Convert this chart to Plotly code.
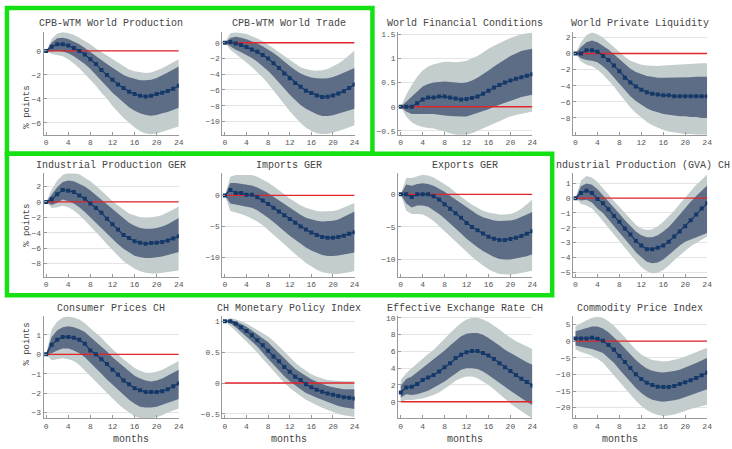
import plotly.graph_objects as go

W, H = 732, 449
MONTHS = list(range(25))

TITLES = ["CPB-WTM World Production", "CPB-WTM World Trade", "World Financial Conditions",
          "World Private Liquidity", "Industrial Production GER", "Imports GER", "Exports GER",
          "ndustrial Production (GVA) CH", "Consumer Prices CH", "CH Monetary Policy Index",
          "Effective Exchange Rate CH", "Commodity Price Index"]

# ---- 1 CPB-WTM World Production
P1_MED = [0, 0.35, 0.55, 0.55, 0.45, 0.25, 0.0, -0.3, -0.7, -1.1, -1.6, -2.0, -2.4, -2.8, -3.1, -3.4, -3.6, -3.75, -3.8, -3.75, -3.6, -3.5, -3.35, -3.15, -2.9]
P1_IN_HI = [0, 0.7, 1.05, 1.1, 1.0, 0.8, 0.55, 0.25, -0.1, -0.45, -0.8, -1.1, -1.4, -1.7, -2.0, -2.2, -2.35, -2.45, -2.45, -2.4, -2.25, -2.05, -1.8, -1.55, -1.3]
P1_IN_LO = [0, -0.05, 0.0, -0.05, -0.2, -0.45, -0.75, -1.1, -1.5, -2.0, -2.5, -3.0, -3.5, -3.9, -4.3, -4.7, -5.0, -5.2, -5.35, -5.4, -5.35, -5.2, -5.1, -4.95, -4.75]
P1_OUT_HI = [0, 1.0, 1.45, 1.55, 1.5, 1.35, 1.1, 0.85, 0.55, 0.2, -0.1, -0.4, -0.7, -1.0, -1.3, -1.55, -1.7, -1.8, -1.85, -1.8, -1.65, -1.45, -1.2, -0.95, -0.7]
P1_OUT_LO = [0, -0.25, -0.35, -0.45, -0.7, -1.05, -1.45, -1.9, -2.4, -2.9, -3.5, -4.0, -4.6, -5.1, -5.6, -6.0, -6.4, -6.7, -6.9, -6.95, -6.9, -6.8, -6.6, -6.45, -6.3]

# ---- 2 CPB-WTM World Trade
P2_MED = [0, 0.1, -0.1, -0.3, -0.55, -0.85, -1.15, -1.55, -2.0, -2.6, -3.2, -3.9, -4.5, -5.1, -5.6, -6.1, -6.4, -6.7, -6.9, -6.85, -6.7, -6.45, -6.15, -5.75, -5.3]
P2_IN_HI = [0, 0.6, 0.75, 0.65, 0.45, 0.2, -0.1, -0.45, -0.85, -1.3, -1.8, -2.4, -2.95, -3.45, -3.9, -4.2, -4.4, -4.5, -4.55, -4.5, -4.35, -4.1, -3.8, -3.5, -3.2]
P2_IN_LO = [0, -0.5, -0.9, -1.2, -1.55, -1.95, -2.4, -3.0, -3.6, -4.3, -5.0, -5.8, -6.6, -7.3, -7.9, -8.4, -8.8, -9.1, -9.3, -9.3, -9.2, -9.0, -8.8, -8.6, -8.4]
P2_OUT_HI = [0, 1.2, 1.3, 1.25, 1.1, 0.85, 0.55, 0.2, -0.2, -0.7, -1.2, -1.7, -2.2, -2.7, -3.1, -3.35, -3.5, -3.55, -3.5, -3.35, -3.05, -2.65, -2.15, -1.6, -1.0]
P2_OUT_LO = [0, -0.9, -1.5, -2.0, -2.5, -3.1, -3.7, -4.4, -5.2, -6.0, -6.9, -7.8, -8.7, -9.5, -10.2, -10.8, -11.2, -11.5, -11.6, -11.6, -11.4, -11.2, -11.0, -10.8, -10.5]

# ---- 3 World Financial Conditions
P3_MED = [0, 0, 0, 0.07, 0.15, 0.19, 0.19, 0.21, 0.21, 0.19, 0.17, 0.15, 0.16, 0.18, 0.21, 0.27, 0.33, 0.4, 0.45, 0.5, 0.54, 0.58, 0.61, 0.64, 0.67]
P3_IN_HI = [0, 0.1, 0.2, 0.32, 0.42, 0.47, 0.5, 0.51, 0.52, 0.51, 0.5, 0.49, 0.5, 0.54, 0.6, 0.67, 0.75, 0.83, 0.9, 0.98, 1.05, 1.1, 1.15, 1.18, 1.2]
P3_IN_LO = [0, -0.1, -0.15, -0.15, -0.15, -0.15, -0.15, -0.16, -0.18, -0.19, -0.2, -0.2, -0.2, -0.17, -0.13, -0.09, -0.05, 0.0, 0.05, 0.09, 0.12, 0.16, 0.2, 0.23, 0.25]
P3_OUT_HI = [0, 0.25, 0.45, 0.62, 0.75, 0.83, 0.88, 0.91, 0.93, 0.93, 0.92, 0.93, 0.95, 1.0, 1.05, 1.12, 1.2, 1.26, 1.32, 1.37, 1.42, 1.46, 1.5, 1.52, 1.53]
P3_OUT_LO = [0, -0.2, -0.32, -0.38, -0.42, -0.44, -0.45, -0.48, -0.52, -0.55, -0.58, -0.59, -0.58, -0.55, -0.5, -0.45, -0.4, -0.35, -0.3, -0.25, -0.2, -0.17, -0.15, -0.12, -0.1]

# ---- 4 World Private Liquidity
P4_MED = [0, 0, 0.4, 0.4, 0.2, -0.3, -0.8, -1.5, -2.2, -3.0, -3.6, -4.1, -4.5, -4.8, -5.0, -5.1, -5.2, -5.2, -5.3, -5.3, -5.3, -5.3, -5.3, -5.3, -5.3]
P4_IN_HI = [0, 0.8, 1.4, 1.6, 1.4, 1.0, 0.5, -0.1, -0.7, -1.3, -1.9, -2.3, -2.6, -2.8, -2.9, -3.0, -3.0, -3.0, -3.0, -3.0, -3.0, -2.95, -2.9, -2.9, -2.9]
P4_IN_LO = [0, -0.6, -0.8, -0.9, -1.1, -1.6, -2.2, -2.9, -3.7, -4.5, -5.3, -5.9, -6.4, -6.8, -7.1, -7.3, -7.5, -7.6, -7.7, -7.8, -7.8, -7.9, -7.9, -8.0, -8.0]
P4_OUT_HI = [0, 1.4, 2.3, 2.6, 2.4, 2.0, 1.4, 0.8, 0.1, -0.4, -0.9, -1.2, -1.4, -1.5, -1.55, -1.55, -1.5, -1.45, -1.4, -1.35, -1.3, -1.25, -1.2, -1.2, -1.2]
P4_OUT_LO = [0, -1.0, -1.4, -1.6, -2.0, -2.6, -3.3, -4.1, -5.0, -5.9, -6.7, -7.4, -8.0, -8.5, -8.9, -9.2, -9.5, -9.7, -9.8, -9.9, -10.0, -10.0, -10.1, -10.1, -10.1]

# ---- 5 Industrial Production GER
P5_MED = [0, 0.35, 1.0, 1.55, 1.45, 1.3, 0.85, 0.4, -0.2, -0.8, -1.4, -2.2, -2.9, -3.6, -4.3, -4.7, -5.1, -5.3, -5.45, -5.35, -5.3, -5.2, -5.0, -4.75, -4.45]
P5_IN_HI = [0, 1.0, 1.9, 2.6, 2.8, 2.7, 2.4, 2.0, 1.5, 0.9, 0.3, -0.3, -1.0, -1.6, -2.2, -2.7, -3.1, -3.4, -3.5, -3.5, -3.4, -3.2, -2.9, -2.5, -2.1]
P5_IN_LO = [0, -0.4, -0.1, 0.3, 0.1, -0.2, -0.7, -1.3, -1.9, -2.6, -3.3, -4.1, -4.8, -5.5, -6.1, -6.6, -7.0, -7.2, -7.3, -7.3, -7.2, -7.1, -6.9, -6.7, -6.5]
P5_OUT_HI = [0, 1.6, 2.8, 3.5, 3.8, 3.8, 3.6, 3.2, 2.7, 2.1, 1.5, 0.8, 0.1, -0.5, -1.0, -1.5, -1.8, -2.0, -2.1, -2.0, -1.9, -1.7, -1.4, -1.0, -0.6]
P5_OUT_LO = [0, -0.8, -0.7, -0.5, -0.7, -1.1, -1.7, -2.4, -3.1, -3.9, -4.7, -5.5, -6.3, -7.0, -7.7, -8.2, -8.7, -9.0, -9.2, -9.3, -9.3, -9.2, -9.1, -9.0, -8.9]

# ---- 6 Imports GER
P6_MED = [0, 0.9, 0.4, 0.4, 0.1, 0.1, -0.3, -0.8, -1.4, -2.0, -2.6, -3.2, -3.8, -4.4, -5.0, -5.5, -6.0, -6.4, -6.7, -6.85, -6.85, -6.7, -6.5, -6.2, -5.95]
P6_IN_HI = [0, 2.0, 2.0, 1.9, 1.8, 1.6, 1.3, 0.9, 0.4, -0.2, -0.8, -1.4, -2.0, -2.6, -3.1, -3.6, -3.9, -4.1, -4.2, -4.2, -4.1, -3.9, -3.5, -3.1, -2.6]
P6_IN_LO = [0, -1.3, -1.5, -1.6, -1.8, -2.0, -2.4, -3.0, -3.6, -4.3, -5.0, -5.8, -6.5, -7.2, -7.8, -8.4, -8.9, -9.3, -9.6, -9.8, -9.8, -9.7, -9.6, -9.4, -9.2]
P6_OUT_HI = [0, 3.0, 3.3, 3.3, 3.4, 3.3, 3.0, 2.6, 2.1, 1.5, 0.9, 0.2, -0.5, -1.1, -1.6, -2.0, -2.3, -2.5, -2.6, -2.6, -2.5, -2.3, -2.0, -1.6, -1.2]
P6_OUT_LO = [0, -2.5, -2.8, -3.0, -3.3, -3.7, -4.2, -4.8, -5.5, -6.3, -7.1, -7.9, -8.7, -9.5, -10.2, -10.9, -11.5, -12.0, -12.4, -12.6, -12.7, -12.7, -12.6, -12.4, -12.2]

# ---- 7 Exports GER
P7_MED = [0, 0, -0.4, 0, 0, 0, -0.3, -0.8, -1.5, -2.2, -2.9, -3.6, -4.4, -5.0, -5.5, -6.0, -6.5, -6.8, -7.0, -7.0, -6.85, -6.65, -6.4, -6.05, -5.65]
P7_IN_HI = [0, 1.5, 1.3, 1.6, 1.7, 1.6, 1.3, 0.9, 0.4, -0.2, -0.8, -1.4, -2.0, -2.6, -3.1, -3.5, -3.8, -4.0, -4.1, -4.1, -4.0, -3.8, -3.5, -3.1, -2.7]
P7_IN_LO = [0, -1.4, -2.0, -1.7, -1.7, -1.9, -2.4, -3.0, -3.7, -4.4, -5.2, -6.0, -6.8, -7.5, -8.1, -8.7, -9.2, -9.6, -9.9, -10.0, -10.0, -9.9, -9.7, -9.5, -9.2]
P7_OUT_HI = [0, 2.5, 2.5, 2.8, 3.0, 2.9, 2.6, 2.1, 1.6, 1.0, 0.3, -0.4, -1.0, -1.6, -2.1, -2.5, -2.8, -3.0, -3.1, -3.1, -3.0, -2.7, -2.2, -1.5, -0.8]
P7_OUT_LO = [0, -2.5, -3.0, -3.0, -3.1, -3.5, -4.1, -4.8, -5.6, -6.4, -7.2, -8.0, -8.8, -9.6, -10.3, -10.9, -11.5, -11.9, -12.2, -12.3, -12.3, -12.2, -12.1, -11.9, -11.7]

# ---- 8 Industrial Production (GVA) CH
P8_MED = [0, 0.35, 0.5, 0.35, -0.05, -0.35, -0.75, -1.2, -1.6, -2.05, -2.45, -2.9, -3.2, -3.45, -3.45, -3.35, -3.2, -2.95, -2.6, -2.25, -1.9, -1.5, -1.1, -0.7, -0.35]
P8_IN_HI = [0, 0.8, 1.0, 0.9, 0.6, 0.2, -0.2, -0.65, -1.05, -1.5, -1.9, -2.25, -2.5, -2.65, -2.65, -2.5, -2.25, -1.95, -1.55, -1.1, -0.7, -0.25, 0.15, 0.5, 0.85]
P8_IN_LO = [0, -0.15, -0.1, -0.3, -0.7, -1.0, -1.4, -1.85, -2.3, -2.75, -3.2, -3.65, -4.0, -4.3, -4.4, -4.35, -4.15, -3.85, -3.55, -3.2, -2.95, -2.75, -2.6, -2.5, -2.35]
P8_OUT_HI = [0, 1.2, 1.5, 1.4, 1.1, 0.7, 0.25, -0.2, -0.6, -1.05, -1.45, -1.8, -2.05, -2.15, -2.1, -1.9, -1.6, -1.25, -0.85, -0.4, 0.05, 0.5, 0.9, 1.25, 1.6]
P8_OUT_LO = [0, -0.4, -0.5, -0.7, -1.1, -1.5, -1.95, -2.4, -2.85, -3.3, -3.8, -4.25, -4.65, -4.95, -5.1, -5.05, -4.85, -4.55, -4.2, -3.85, -3.55, -3.25, -3.0, -2.8, -2.6]

# ---- 9 Consumer Prices CH
P9_MED = [0, 0.5, 0.75, 0.9, 0.9, 0.85, 0.75, 0.55, 0.2, 0.0, -0.25, -0.5, -0.8, -1.05, -1.35, -1.55, -1.75, -1.85, -1.95, -1.95, -1.95, -1.9, -1.8, -1.65, -1.5]
P9_IN_HI = [0, 0.9, 1.25, 1.4, 1.45, 1.4, 1.3, 1.15, 0.9, 0.65, 0.4, 0.15, -0.15, -0.4, -0.65, -0.9, -1.1, -1.25, -1.35, -1.4, -1.35, -1.25, -1.1, -0.95, -0.8]
P9_IN_LO = [0, 0.05, 0.2, 0.3, 0.3, 0.2, 0.05, -0.15, -0.45, -0.7, -1.0, -1.3, -1.6, -1.85, -2.1, -2.35, -2.55, -2.7, -2.75, -2.75, -2.7, -2.6, -2.5, -2.4, -2.3]
P9_OUT_HI = [0, 1.3, 1.7, 1.9, 1.95, 1.9, 1.8, 1.6, 1.35, 1.1, 0.85, 0.55, 0.25, 0.0, -0.25, -0.5, -0.7, -0.85, -0.95, -0.95, -0.9, -0.8, -0.65, -0.5, -0.35]
P9_OUT_LO = [0, -0.3, -0.25, -0.2, -0.25, -0.35, -0.55, -0.8, -1.1, -1.4, -1.7, -2.0, -2.3, -2.55, -2.8, -3.0, -3.2, -3.3, -3.3, -3.3, -3.25, -3.15, -3.0, -2.9, -2.8]

# ---- 10 CH Monetary Policy Index
P10_MED = [1, 1, 0.96, 0.9, 0.84, 0.77, 0.69, 0.61, 0.52, 0.43, 0.35, 0.26, 0.18, 0.1, 0.05, -0.02, -0.07, -0.11, -0.14, -0.17, -0.19, -0.21, -0.23, -0.24, -0.25]
P10_IN_HI = [1, 1.02, 1.0, 0.96, 0.91, 0.85, 0.79, 0.73, 0.66, 0.57, 0.49, 0.4, 0.31, 0.23, 0.17, 0.11, 0.06, 0.02, -0.02, -0.05, -0.07, -0.09, -0.1, -0.1, -0.1]
P10_IN_LO = [1, 0.97, 0.9, 0.83, 0.75, 0.67, 0.59, 0.49, 0.39, 0.3, 0.2, 0.11, 0.03, -0.04, -0.1, -0.16, -0.2, -0.24, -0.28, -0.31, -0.34, -0.37, -0.39, -0.41, -0.42]
P10_OUT_HI = [1.0, 1.05, 1.03, 1.0, 0.96, 0.91, 0.86, 0.81, 0.75, 0.68, 0.6, 0.51, 0.42, 0.33, 0.26, 0.2, 0.14, 0.1, 0.07, 0.05, 0.04, 0.03, 0.03, 0.03, 0.03]
P10_OUT_LO = [1.0, 0.92, 0.84, 0.76, 0.67, 0.58, 0.49, 0.39, 0.29, 0.19, 0.1, 0.0, -0.08, -0.15, -0.21, -0.27, -0.32, -0.36, -0.4, -0.44, -0.47, -0.5, -0.52, -0.54, -0.55]

# ---- 11 Effective Exchange Rate CH
P11_MED = [1.1, 1.7, 1.8, 2.1, 2.6, 2.9, 3.2, 3.6, 4.1, 4.6, 5.2, 5.6, 5.9, 6.05, 6.05, 5.8, 5.5, 5.1, 4.6, 4.1, 3.65, 3.2, 2.75, 2.35, 1.95]
P11_IN_HI = [1.9, 2.7, 3.0, 3.5, 4.0, 4.5, 5.0, 5.5, 6.1, 6.7, 7.3, 7.8, 8.1, 8.2, 8.2, 8.0, 7.6, 7.2, 6.7, 6.2, 5.8, 5.4, 5.0, 4.7, 4.4]
P11_IN_LO = [0.5, 0.9, 0.8, 0.9, 1.1, 1.3, 1.6, 2.0, 2.4, 2.9, 3.4, 3.8, 4.0, 4.0, 3.9, 3.6, 3.2, 2.8, 2.3, 1.8, 1.3, 0.8, 0.4, 0.0, -0.4]
P11_OUT_HI = [2.6, 3.4, 4.0, 4.6, 5.2, 5.7, 6.2, 6.8, 7.5, 8.2, 8.8, 9.4, 9.8, 10.0, 10.0, 9.8, 9.5, 9.1, 8.6, 8.1, 7.6, 7.2, 6.9, 6.6, 6.3]
P11_OUT_LO = [0.0, 0.2, 0.2, 0.3, 0.4, 0.6, 0.8, 1.1, 1.5, 2.0, 2.5, 2.8, 3.0, 3.0, 2.8, 2.4, 2.0, 1.5, 0.9, 0.4, -0.2, -0.7, -1.2, -1.6, -2.0]

# ---- 12 Commodity Price Index
P12_MED = [0.8, 0.8, 0.8, 1.0, 0.7, 0.1, -1.2, -2.6, -4.5, -6.3, -8.1, -10.0, -11.4, -12.5, -13.2, -13.7, -13.8, -13.8, -13.5, -12.9, -12.4, -11.8, -11.1, -10.3, -9.5]
P12_IN_HI = [3.0, 3.5, 4.0, 4.4, 4.4, 3.8, 2.7, 1.3, -0.4, -2.2, -4.0, -5.7, -7.1, -8.2, -8.9, -9.3, -9.4, -9.3, -9.0, -8.6, -8.0, -7.4, -6.6, -5.8, -5.0]
P12_IN_LO = [-1.3, -1.8, -2.1, -2.4, -3.0, -3.6, -5.0, -6.5, -8.5, -10.4, -12.3, -14.1, -15.6, -16.8, -17.6, -18.0, -18.2, -18.1, -17.8, -17.4, -16.9, -16.3, -15.7, -15.1, -14.5]
P12_OUT_HI = [4.5, 5.5, 6.3, 7.0, 7.3, 7.0, 6.0, 4.6, 3.0, 1.2, -0.8, -2.6, -4.0, -5.0, -5.7, -6.0, -6.1, -6.0, -5.7, -5.2, -4.6, -3.9, -3.2, -2.6, -2.0]
P12_OUT_LO = [-2.5, -3.3, -3.8, -4.4, -5.3, -6.5, -8.2, -10.0, -12.0, -14.0, -16.0, -17.9, -19.5, -20.7, -21.6, -22.2, -22.5, -22.4, -22.1, -21.6, -21.0, -20.4, -19.9, -19.5, -19.1]

X_TICKS = [0, 4, 8, 12, 16, 20, 24]
Y_TICKS = [[0, -2, -4, -6], [0, -2, -4, -6, -8, -10], [1.5, 1, 0.5, 0, -0.5], [2, 0, -2, -4, -6, -8],
           [2, 0, -2, -4, -6, -8], [0, -5, -10], [0, -5, -10], [1, 0, -1, -2, -3, -4, -5],
           [1, 0, -1, -2, -3], [1, 0.5, 0, -0.5], [10, 8, 6, 4, 2, 0], [5, 0, -5, -10, -15, -20]]

PANELS = [
    (P1_MED, P1_IN_LO, P1_IN_HI, P1_OUT_LO, P1_OUT_HI),
    (P2_MED, P2_IN_LO, P2_IN_HI, P2_OUT_LO, P2_OUT_HI),
    (P3_MED, P3_IN_LO, P3_IN_HI, P3_OUT_LO, P3_OUT_HI),
    (P4_MED, P4_IN_LO, P4_IN_HI, P4_OUT_LO, P4_OUT_HI),
    (P5_MED, P5_IN_LO, P5_IN_HI, P5_OUT_LO, P5_OUT_HI),
    (P6_MED, P6_IN_LO, P6_IN_HI, P6_OUT_LO, P6_OUT_HI),
    (P7_MED, P7_IN_LO, P7_IN_HI, P7_OUT_LO, P7_OUT_HI),
    (P8_MED, P8_IN_LO, P8_IN_HI, P8_OUT_LO, P8_OUT_HI),
    (P9_MED, P9_IN_LO, P9_IN_HI, P9_OUT_LO, P9_OUT_HI),
    (P10_MED, P10_IN_LO, P10_IN_HI, P10_OUT_LO, P10_OUT_HI),
    (P11_MED, P11_IN_LO, P11_IN_HI, P11_OUT_LO, P11_OUT_HI),
    (P12_MED, P12_IN_LO, P12_IN_HI, P12_OUT_LO, P12_OUT_HI),
]

# layout geometry (pixels)
Y_RANGES = [[-7.0, 1.6], [-11.7, 1.4], [-0.58, 1.55], [-10.1, 2.7], [-9.7, 3.7], [-13.1, 3.55],
            [-12.6, 3.2], [-5.3, 1.67], [-3.3, 1.97], [-0.57, 1.08], [-1.97, 10.2], [-23.2, 7.5]]
COLS = [(44, 180), (224, 357), (401, 536), (577, 712)]
ROWS = [(29, 133), (172, 276), (316, 419)]

MONO = "Liberation Mono, Courier New, monospace"
C_OUT = "#c4cdcd"
C_IN = "#5d6d86"
C_LINE = "#143868"
C_RED = "#e0252b"

fig = go.Figure()
layout = dict(width=W, height=H, margin=dict(l=0, r=0, t=0, b=0), paper_bgcolor="white",
              plot_bgcolor="white", showlegend=False, font=dict(family=MONO, size=8, color="#555"))
annotations = []

for i, (med, ilo, ihi, olo, ohi) in enumerate(PANELS):
    k = i + 1
    r, c = divmod(i, 4)
    xa, ya = f"x{k}", f"y{k}"
    rev = MONTHS[::-1]
    fig.add_trace(go.Scatter(x=MONTHS + rev, y=ohi + olo[::-1], fill="toself", fillcolor=C_OUT,
                             line=dict(width=0), mode="lines", hoverinfo="skip", xaxis=xa, yaxis=ya))
    fig.add_trace(go.Scatter(x=MONTHS + rev, y=ihi + ilo[::-1], fill="toself", fillcolor=C_IN,
                             line=dict(width=0), mode="lines", hoverinfo="skip", xaxis=xa, yaxis=ya))
    fig.add_trace(go.Scatter(x=[MONTHS[0], MONTHS[-1]], y=[0, 0], mode="lines",
                             line=dict(color=C_RED, width=1.3), xaxis=xa, yaxis=ya))
    fig.add_trace(go.Scatter(x=MONTHS, y=med, mode="lines+markers",
                             line=dict(color=C_LINE, width=1.2),
                             marker=dict(symbol="square", size=4, color=C_LINE),
                             xaxis=xa, yaxis=ya))
    x0, x1 = COLS[c]
    y0, y1 = ROWS[r]
    axis_common = dict(showline=True, linecolor="#999", linewidth=1, ticks="inside", ticklen=3,
                       tickcolor="#999", tickfont=dict(family=MONO, size=8, color="#555"),
                       zeroline=False, fixedrange=True)
    layout[f"xaxis{k}"] = dict(domain=[x0 / W, x1 / W], range=[-0.45, 24], anchor=ya,
                               tickvals=X_TICKS, showgrid=False, **axis_common)
    layout[f"yaxis{k}"] = dict(domain=[1 - y1 / H, 1 - y0 / H], range=Y_RANGES[i], anchor=xa,
                               tickvals=Y_TICKS[i], showgrid=True, gridcolor="#e4e4e4", gridwidth=1,
                               **axis_common)
    # panel title
    if k == 8:
        annotations.append(dict(text=TITLES[i], x=558 / W, y=1 - (y0 - 8) / H, xref="paper",
                                yref="paper", xanchor="left", yanchor="middle", showarrow=False,
                                font=dict(family=MONO, size=10, color="#444")))
    else:
        annotations.append(dict(text=TITLES[i], x=(x0 + x1) / 2 / W, y=1 - (y0 - 8) / H,
                                xref="paper", yref="paper", xanchor="center", yanchor="middle",
                                showarrow=False, font=dict(family=MONO, size=10, color="#444")))
    if c == 0:
        annotations.append(dict(text="% points", x=20 / W, y=1 - (y0 + y1) / 2 / H, xref="paper",
                                yref="paper", textangle=-90, showarrow=False,
                                font=dict(family=MONO, size=9, color="#444")))
    if r == 2:
        annotations.append(dict(text="months", x=(x0 + x1) / 2 / W, y=1 - 440 / H, xref="paper",
                                yref="paper", showarrow=False, yanchor="middle",
                                font=dict(family=MONO, size=10, color="#444")))

# green highlight boxes
GREEN = "#14e014"
shapes = [
    dict(type="rect", xref="paper", yref="paper", x0=7 / W, x1=375 / W, y0=1 - 152 / H, y1=1 - 5 / H,
         line=dict(color=GREEN, width=4.5), layer="above"),
    dict(type="rect", xref="paper", yref="paper", x0=7 / W, x1=556 / W, y0=1 - 295 / H, y1=1 - 152 / H,
         line=dict(color=GREEN, width=4.5), layer="above"),
]
layout["annotations"] = annotations
layout["shapes"] = shapes
fig.update_layout(**layout)

fig.write_html("out.html", config={"displayModeBar": False},
               post_script="document.body.style.margin='0';")
